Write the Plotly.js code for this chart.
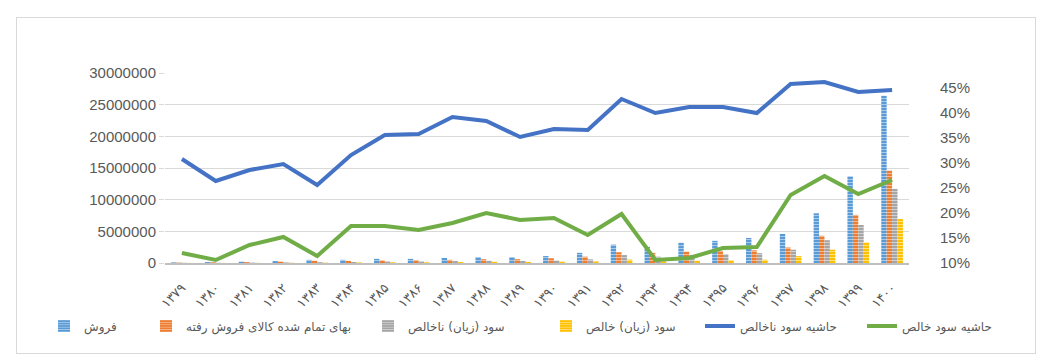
<!DOCTYPE html>
<html>
<head>
<meta charset="utf-8">
<script src="https://cdn.plot.ly/plotly-3.0.1.min.js"></script>
<style>
html,body{margin:0;padding:0;background:#fff;}
#wrap{position:relative;width:1045px;height:359px;}
#chart{position:absolute;left:0;top:0;width:1045px;height:359px;}
#frame{position:absolute;left:16px;top:17px;width:1018px;height:335px;border:1px solid #D9D9D9;pointer-events:none;}
</style>
</head>
<body>
<div id="wrap"><div id="chart"></div><div id="frame"></div></div>
<script>
const years = ['۱۳۷۹','۱۳۸۰','۱۳۸۱','۱۳۸۲','۱۳۸۳','۱۳۸۴','۱۳۸۵','۱۳۸۶','۱۳۸۷','۱۳۸۸','۱۳۸۹','۱۳۹۰','۱۳۹۱','۱۳۹۲','۱۳۹۳','۱۳۹۴','۱۳۹۵','۱۳۹۶','۱۳۹۷','۱۳۹۸','۱۳۹۹','۱۴۰۰'];
const sales = [100000,150000,200000,300000,500000,500000,650000,650000,800000,950000,950000,1100000,1600000,2900000,2550000,3200000,3500000,3950000,4600000,7850000,13700000,26400000];
const cogs = [65000,110000,140000,210000,370000,340000,420000,450000,500000,600000,600000,750000,1000000,1700000,1600000,1800000,1900000,2000000,2450000,4300000,7600000,14600000];
const gross = [30000,40000,57000,90000,130000,160000,230000,230000,300000,360000,330000,400000,580000,1250000,1000000,1300000,1400000,1550000,2100000,3600000,6000000,11700000];
const net = [12000,16000,27000,45000,57000,87000,113000,108000,144000,190000,177000,209000,250000,550000,270000,350000,450000,520000,1080000,2100000,3250000,6950000];
const grossMargin = [0.308,0.264,0.286,0.298,0.256,0.316,0.356,0.358,0.392,0.384,0.352,0.368,0.366,0.428,0.400,0.412,0.412,0.400,0.458,0.462,0.442,0.446];
const netMargin = [0.120,0.106,0.136,0.152,0.114,0.174,0.174,0.166,0.180,0.200,0.186,0.190,0.156,0.198,0.106,0.110,0.130,0.132,0.236,0.274,0.238,0.266];

const names = ['فروش','بهای تمام شده کالای فروش رفته','سود (زیان) ناخالص','سود (زیان) خالص','حاشیه سود ناخالص','حاشیه سود خالص'];

function barTrace(y, name, col, stripe, lg){
  return {type:'bar', x:years, y:y, name:name, yaxis:'y', legend:lg,
    marker:{color:col, line:{width:0}, pattern:{shape:'-', fgcolor:stripe, bgcolor:col, size:3, solidity:0.35}},
    hoverinfo:'x+y'};
}
function lineTrace(y, name, col, lg){
  return {type:'scatter', mode:'lines', x:years, y:y, name:name, yaxis:'y2', legend:lg,
    line:{color:col, width:4}};
}
const data = [
  barTrace(sales, names[0], '#5B9BD5', '#A9CBEB', 'legend'),
  barTrace(cogs, names[1], '#ED7D31', '#F6B88E', 'legend2'),
  barTrace(gross, names[2], '#A5A5A5', '#D0D0D0', 'legend3'),
  barTrace(net, names[3], '#FFC000', '#FFE07A', 'legend4'),
  lineTrace(grossMargin, names[4], '#4472C4', 'legend5'),
  lineTrace(netMargin, names[5], '#70AD47', 'legend6')
];
const tickFont = {family:'Liberation Sans, Arial, sans-serif', size:15, color:'#595959'};
function lg(px){
  return {orientation:'h', xref:'container', x:px/1045, xanchor:'left', yref:'container', y:0.092, yanchor:'middle',
    font:{family:'DejaVu Sans, sans-serif', size:12, color:'#595959'}, itemwidth:30, bgcolor:'rgba(0,0,0,0)'};
}
const layout = {
  width:1045, height:359,
  margin:{l:165, r:136, t:73, b:96},
  paper_bgcolor:'#ffffff', plot_bgcolor:'#ffffff',
  barmode:'group', bargap:0.36, bargroupgap:0,
  showlegend:true,
  legend:lg(44), legend2:lg(146), legend3:lg(368), legend4:lg(546), legend5:lg(700), legend6:lg(862),
  xaxis:{type:'category', tickangle:-45, tickfont:{family:'DejaVu Sans, sans-serif', size:13, color:'#595959'},
    ticklabelstandoff:10,
    showline:true, linecolor:'#BFBFBF', linewidth:2, showgrid:false, ticks:'', automargin:false},
  yaxis:{range:[0,30000000], dtick:5000000, tickformat:'d', showgrid:true, gridcolor:'#D9D9D9', gridwidth:1,
    zeroline:false, tickfont:tickFont, ticks:'outside', ticklen:5, tickcolor:'#D9D9D9', automargin:false,
    showline:false, fixedrange:true},
  yaxis2:{overlaying:'y', side:'right', range:[0.10,0.48], tickvals:[0.10,0.15,0.20,0.25,0.30,0.35,0.40,0.45],
    tickformat:'.0%', showgrid:false, zeroline:false, tickfont:tickFont, ticklabelstandoff:30, automargin:false, showline:false}
};
Plotly.newPlot('chart', data, layout, {displayModeBar:false, staticPlot:true});
</script>
</body>
</html>
